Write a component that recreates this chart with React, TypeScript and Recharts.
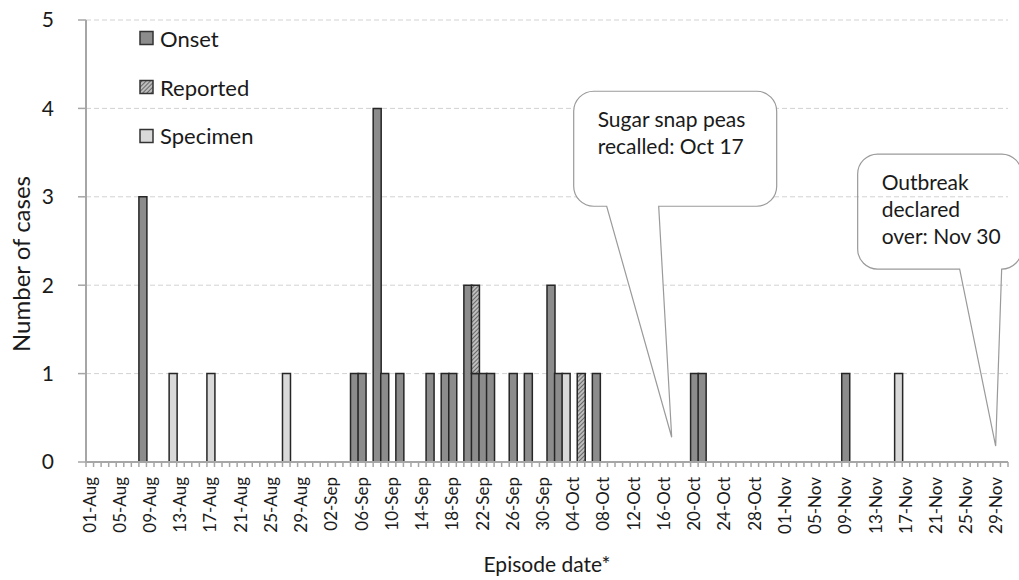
import React from "react";
import { Bar, BarChart, CartesianGrid, Legend, ReferenceDot, XAxis, YAxis } from "recharts";

// one category per day, 01-Aug to 30-Nov
const months: [string, number][] = [
  ["Aug", 31],
  ["Sep", 30],
  ["Oct", 31],
  ["Nov", 30],
];
const days: string[] = months.flatMap(([m, n]) =>
  Array.from({ length: n }, (_, i) => `${String(i + 1).padStart(2, "0")}-${m}`)
);

const onsetCases: [string, number][] = [
  ["08-Aug", 3],
  ["05-Sep", 1],
  ["06-Sep", 1],
  ["08-Sep", 4],
  ["09-Sep", 1],
  ["11-Sep", 1],
  ["15-Sep", 1],
  ["17-Sep", 1],
  ["18-Sep", 1],
  ["20-Sep", 2],
  ["21-Sep", 1],
  ["22-Sep", 1],
  ["23-Sep", 1],
  ["26-Sep", 1],
  ["28-Sep", 1],
  ["01-Oct", 2],
  ["02-Oct", 1],
  ["07-Oct", 1],
  ["20-Oct", 1],
  ["21-Oct", 1],
  ["09-Nov", 1],
];
const reportedCases: [string, number][] = [
  ["21-Sep", 1],
  ["05-Oct", 1],
];
const specimenCases: [string, number][] = [
  ["12-Aug", 1],
  ["17-Aug", 1],
  ["27-Aug", 1],
  ["03-Oct", 1],
  ["16-Nov", 1],
];

const yTicks = [0, 1, 2, 3, 4, 5];

const callouts = [
  { date: "17-Oct", y: 0.28, lines: ["Sugar snap peas", "recalled: Oct 17"] },
  { date: "29-Nov", y: 0.18, lines: ["Outbreak", "declared", "over: Nov 30"] },
];

const lookup = (list: [string, number][], d: string) => list.find((e) => e[0] === d)?.[1] ?? 0;

const data = days.map((d) => ({
  date: d,
  onset: lookup(onsetCases, d),
  reported: lookup(reportedCases, d),
  specimen: lookup(specimenCases, d),
}));

const FONT = "Lato, 'Open Sans', sans-serif";
const TEXT = "#1a1a1a";
const AXIS = "#a6a6a6";

function DateTick(props: any) {
  const { x, y, payload, index } = props;
  const half = payload?.offset || 3.78;
  const axisY = y - 15;
  return (
    <g>
      <line x1={x - half} x2={x - half} y1={axisY} y2={axisY + 5} stroke={AXIS} strokeWidth={1.5} />
      {index === days.length - 1 && (
        <line x1={x + half} x2={x + half} y1={axisY} y2={axisY + 5} stroke={AXIS} strokeWidth={1.5} />
      )}
      {index % 4 === 0 && (
        <text
          x={x}
          y={y}
          dy="0.34em"
          transform={`rotate(-90 ${x} ${y})`}
          textAnchor="end"
          fill={TEXT}
          fontSize={17}
          fontFamily={FONT}
        >
          {payload.value}
        </text>
      )}
    </g>
  );
}

// rounded speech bubble; tail tip sits on (cx, cy)
function bubble(c: (typeof callouts)[number], i: number) {
  const boxes = [
    { l: -98, r: 105, t: -346, b: -231, a: -65, z: -13, fill: "#fff", tip: 0 },
    { l: -138, r: 26, t: -292, b: -177, a: -36, z: 6, fill: "none", tip: -1 },
  ];
  return (props: any) => {
    const s = boxes[i];
    const tx = props.cx + s.tip;
    const ty = props.cy;
    const L = tx + s.l, R = tx + s.r, T = ty + s.t, B = ty + s.b;
    const rr = 20;
    const d = `M${L + rr},${T} H${R - rr} A${rr},${rr} 0 0 1 ${R},${T + rr} V${B - rr} A${rr},${rr} 0 0 1 ${R - rr},${B} H${tx + s.z} L${tx},${ty} L${tx + s.a},${B} H${L + rr} A${rr},${rr} 0 0 1 ${L},${B - rr} V${T + rr} A${rr},${rr} 0 0 1 ${L + rr},${T} Z`;
    return (
      <g>
        <path d={d} fill={s.fill} stroke="#9a9a9a" strokeWidth={1.2} />
        {c.lines.map((line, k) => (
          <text key={k} x={L + 24} y={T + 36 + k * 27} fontSize={21} fill={TEXT} fontFamily={FONT}>
            {line}
          </text>
        ))}
      </g>
    );
  };
}

function LegendBox(props: any) {
  const { payload } = props;
  return (
    <div style={{ fontFamily: FONT, fontSize: 22, color: TEXT }}>
      {(payload || []).map((p: any) => (
        <div key={p.value} style={{ display: "flex", alignItems: "center", height: 48.7 }}>
          <svg width={20} height={16}>
            <rect x={1} y={1.5} width={13} height={13} fill={p.payload?.fill || p.color} stroke="#333" strokeWidth={1.5} />
          </svg>
          <span style={{ marginLeft: 1 }}>{p.value}</span>
        </div>
      ))}
    </div>
  );
}

export default function App() {
  return (
    <div style={{ position: "absolute", left: 0, top: 0, width: 1019, height: 580, background: "#fff", overflow: "hidden" }}>
      <svg width={0} height={0} style={{ position: "absolute" }}>
        <defs>
          <pattern id="hatch" patternUnits="userSpaceOnUse" width={3} height={3} patternTransform="rotate(45)">
            <rect width={3} height={3} fill="#bdbdbd" />
            <line x1={0} y1={0} x2={0} y2={3} stroke="#444" strokeWidth={1.4} />
          </pattern>
        </defs>
      </svg>
      <BarChart
        width={1019}
        height={580}
        data={data}
        margin={{ top: 20, right: 11, bottom: 0, left: 0 }}
        barCategoryGap={0}
        barGap={0}
      >
        <CartesianGrid vertical={false} stroke="#d2d2d2" strokeDasharray="5 3" />
        <XAxis
          dataKey="date"
          interval={0}
          height={118}
          tick={<DateTick />}
          tickLine={false}
          tickSize={5}
          tickMargin={10}
          axisLine={{ stroke: AXIS, strokeWidth: 2 }}
          label={(p: any) => (
            <text
              x={p.viewBox.x + p.viewBox.width / 2}
              y={572}
              textAnchor="middle"
              fontSize={21}
              fill={TEXT}
              fontFamily={FONT}
            >
              Episode date*
            </text>
          )}
        />
        <YAxis
          width={86}
          domain={[0, 5]}
          ticks={yTicks}
          tickSize={8}
          tickMargin={24}
          tickLine={{ stroke: AXIS, strokeWidth: 1.5 }}
          axisLine={{ stroke: AXIS, strokeWidth: 2 }}
          tick={{ fill: TEXT, fontSize: 21, fontFamily: FONT }}
          label={() => (
            <text
              x={20}
              y={264}
              transform="rotate(-90 20 264)"
              textAnchor="middle"
              dominantBaseline="central"
              fontSize={24}
              fill={TEXT}
              fontFamily={FONT}
            >
              Number of cases
            </text>
          )}
        />
        <Bar dataKey="onset" name="Onset" stackId="a" fill="#8c8c8c" stroke="#262626" strokeWidth={1.5} isAnimationActive={false} />
        <Bar dataKey="reported" name="Reported" stackId="a" fill="url(#hatch)" stroke="#262626" strokeWidth={1.5} isAnimationActive={false} />
        <Bar dataKey="specimen" name="Specimen" stackId="a" fill="#d9d9d9" stroke="#262626" strokeWidth={1.5} isAnimationActive={false} />
        <Legend
          layout="vertical"
          align="center"
          verticalAlign="middle"
          wrapperStyle={{ left: 139, top: 14, width: "auto" }}
          content={<LegendBox />}
        />
        {callouts.map((c, i) => (
          <ReferenceDot key={c.date} x={c.date} y={c.y} ifOverflow="visible" shape={bubble(c, i)} />
        ))}
      </BarChart>
    </div>
  );
}
